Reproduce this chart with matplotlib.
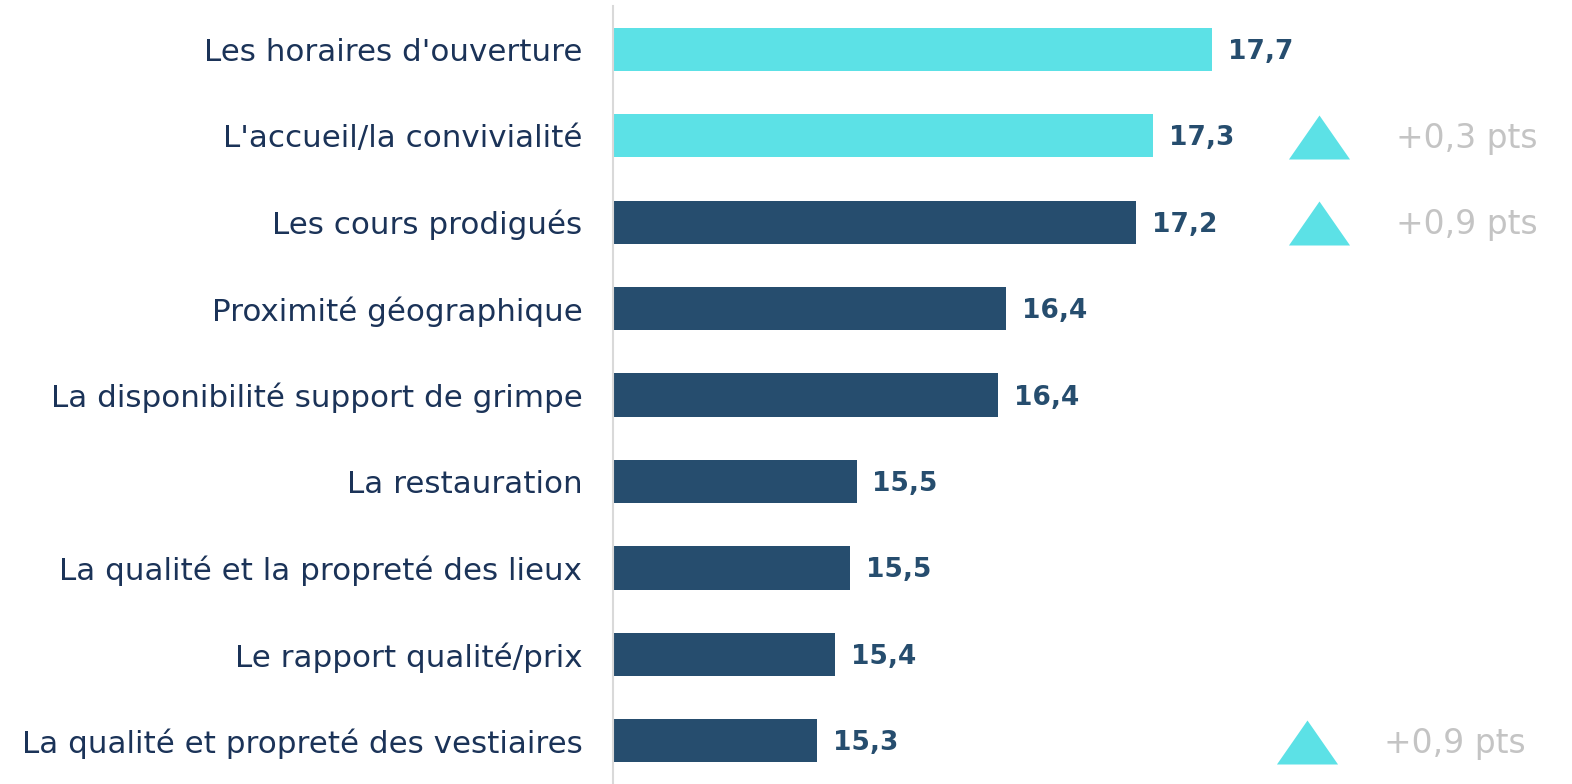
import matplotlib
matplotlib.use("Agg")
import matplotlib.pyplot as plt
import matplotlib.transforms as mtransforms

# data
categories = [
    "Les horaires d'ouverture",
    "L'accueil/la convivialité",
    "Les cours prodigués",
    "Proximité géographique",
    "La disponibilité support de grimpe",
    "La restauration",
    "La qualité et la propreté des lieux",
    "Le rapport qualité/prix",
    "La qualité et propreté des vestiaires",
]
scores = [17.69, 17.33, 17.23, 16.44, 16.39, 15.53, 15.49, 15.40, 15.29]
score_labels = ["17,7", "17,3", "17,2", "16,4", "16,4", "15,5", "15,5", "15,4", "15,3"]
highlight = [True, True, False, False, False, False, False, False, False]
# evolution vs previous wave (row index -> text)
delta_rows = [1, 2, 8]
delta_labels = ["+0,3 pts", "+0,9 pts", "+0,9 pts"]

CYAN = "#5ce1e6"
NAVY = "#264d6e"
LABEL = "#1b3358"
GREY = "#c4c4c4"
FONT = "DejaVu Sans"

fig = plt.figure(figsize=(15.72, 7.84), dpi=100)
ax = fig.add_axes([613 / 1572, 0, 1 - 613 / 1572, 1 - 6 / 784])

y = list(range(len(categories)))
colors = [CYAN if h else NAVY for h in highlight]
x0 = 14.05
ax.barh(y, [v - x0 for v in scores], left=x0, height=0.5, color=colors)
ax.set_xlim(x0, x0 + 959 / 164.6)
ax.set_ylim(len(categories) - 0.5, -0.5)

for i, (v, lab) in enumerate(zip(scores, score_labels)):
    ax.text(v + 0.095, i + 0.03, lab, va="center", ha="left", fontsize=19,
            fontweight="bold", color=NAVY, family=FONT)

ax.set_yticks(y)
ax.set_yticklabels(categories, fontsize=22.3, color=LABEL, family=FONT)
ax.tick_params(axis="y", length=0, pad=22)
ax.set_xticks([])

for s in ["top", "right", "bottom"]:
    ax.spines[s].set_visible(False)
ax.spines["left"].set_color("#d9d9d9")
ax.spines["left"].set_linewidth(1.5)

tri = [(-1, -0.72), (1, -0.72), (0, 0.72), (-1, -0.72)]
trans = mtransforms.blended_transform_factory(ax.transAxes, ax.transData)
for r, txt in zip(delta_rows, delta_labels):
    shift = -12 / 959 if r == len(categories) - 1 else 0
    ax.plot(0.736 + shift, r + 0.01, marker=tri, markersize=44, color=CYAN,
            markeredgewidth=0, transform=trans, clip_on=False, linestyle="none")
    ax.text(0.816 + shift, r + 0.03, txt, va="center", ha="left", fontsize=23.8,
            color=GREY, family=FONT, transform=trans)

fig.savefig("out.png", dpi=100)
